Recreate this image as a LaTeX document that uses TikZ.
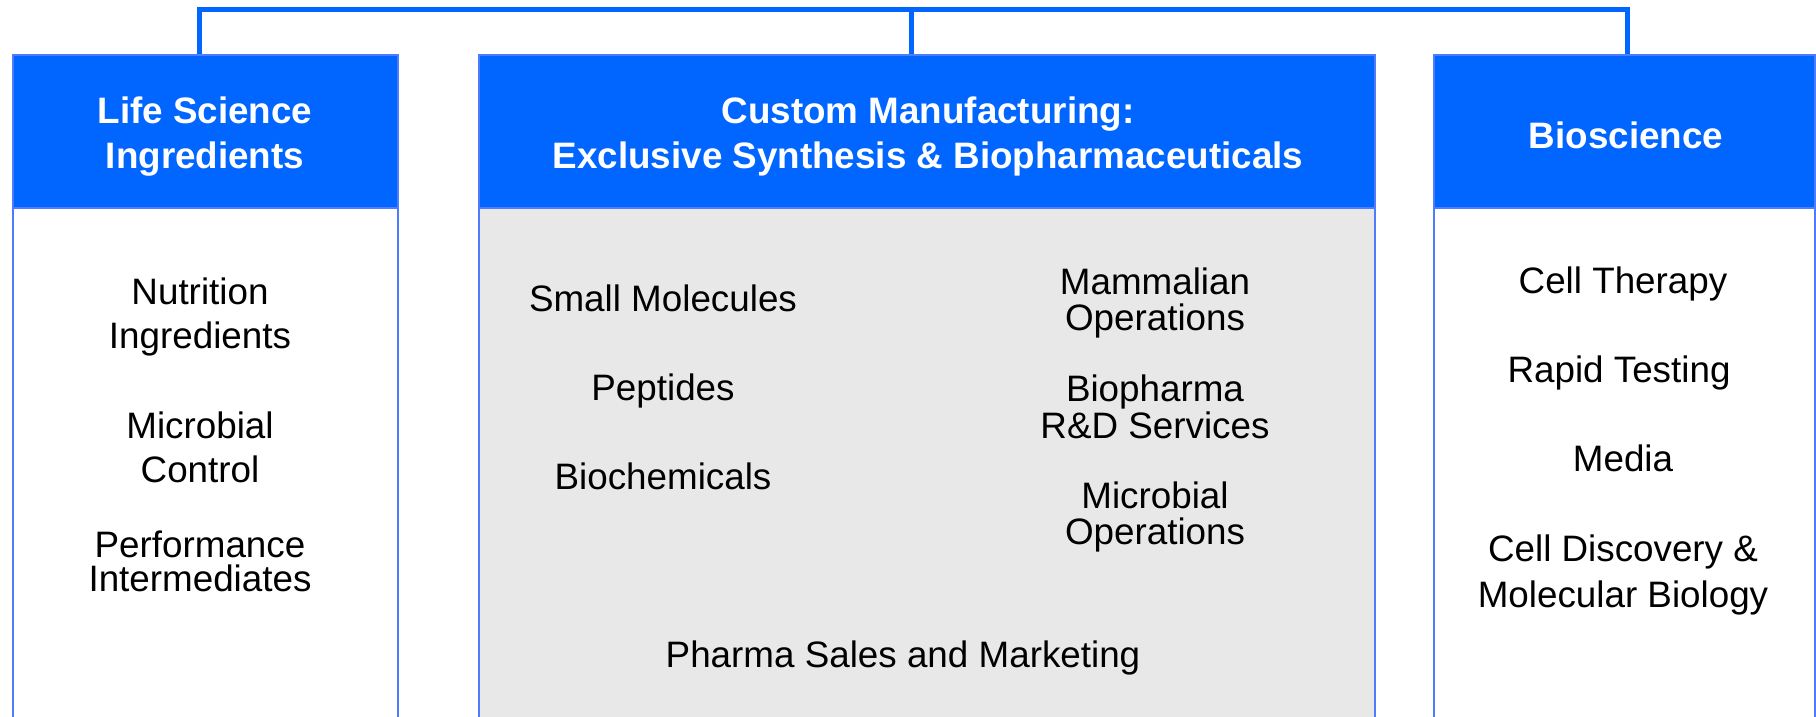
\documentclass[tikz,border=0pt]{standalone}
\usepackage{fontspec}
\setmainfont{Liberation Sans}
\definecolor{hdrblue}{HTML}{0066FF}
\definecolor{edgeblue}{HTML}{4D7CFF}
\definecolor{bodygray}{HTML}{E8E8E8}
\begin{document}
\begin{tikzpicture}[x=1pt,y=-1pt,
  hdr/.style={draw=edgeblue, line width=2pt, fill=hdrblue, inner sep=0pt},
  bodybox/.style={draw=edgeblue, line width=2pt, inner sep=0pt},
  htxt/.style={text=white, font=\fontsize{36.8}{44}\selectfont\bfseries, anchor=base, inner sep=0pt},
  itxt/.style={text=black, font=\fontsize{36.8}{44}\selectfont, anchor=base, inner sep=0pt},
  conn/.style={draw=hdrblue, line width=5pt, line join=miter}
]
\useasboundingbox (0,0) rectangle (1816,717);
\clip (0,0) rectangle (1816,717);

% bodies
\node[bodybox, fill=white, minimum width=384.5pt, minimum height=552pt] (lb) at (205.25,484) {};
\node[bodybox, fill=bodygray, minimum width=896pt, minimum height=552pt] (mb) at (927,484) {};
\node[bodybox, fill=white, minimum width=381pt, minimum height=552pt] (rb) at (1624.5,484) {};

% headers
\node[hdr, minimum width=384.5pt, minimum height=153pt] (lh) at (205.25,131.5) {};
\node[hdr, minimum width=896pt, minimum height=153pt] (mh) at (927,131.5) {};
\node[hdr, minimum width=381pt, minimum height=153pt] (rh) at (1624.5,131.5) {};

% connectors
\coordinate (c1) at (199,10);
\coordinate (c2) at (911,10);
\coordinate (c3) at (1627.5,10);
\draw[conn] (lh.north -| c1) -- (c1) -- (c3) -- (rh.north -| c3);
\draw[conn] (c2) -- (mh.north -| c2);

% header texts
\node[htxt] (lh1) at (205,123) {Life Science};
\node[htxt] (lh2) at (205,168) {Ingredients};
\node[htxt] (mh1) at (928,123) {Custom Manufacturing:};
\node[htxt] (mh2) at (928,168) {Exclusive Synthesis \& Biopharmaceuticals};
\node[htxt] (rh1) at (1626,148) {Bioscience};

% left items
\node[itxt] (l1a) at (200,304) {Nutrition};
\node[itxt] (l1b) at (200,348) {Ingredients};
\node[itxt] (l2a) at (200,438) {Microbial};
\node[itxt] (l2b) at (200,482) {Control};
\node[itxt] (l3a) at (200,557) {Performance};
\node[itxt] (l3b) at (200,591) {Intermediates};

% middle items, left column
\node[itxt] (m1) at (663,311) {Small Molecules};
\node[itxt] (m2) at (663,400) {Peptides};
\node[itxt] (m3) at (663,489) {Biochemicals};

% middle items, right column
\node[itxt] (m4a) at (1155,294) {Mammalian};
\node[itxt] (m4b) at (1155,330) {Operations};
\node[itxt] (m5a) at (1155,401) {Biopharma};
\node[itxt] (m5b) at (1155,438) {R\&D Services};
\node[itxt] (m6a) at (1155,508) {Microbial};
\node[itxt] (m6b) at (1155,544) {Operations};
\node[itxt] (m7) at (903,667) {Pharma Sales and Marketing};

% right items
\node[itxt] (r1) at (1623,293) {Cell Therapy};
\node[itxt] (r2) at (1619,382) {Rapid Testing};
\node[itxt] (r3) at (1623,471) {Media};
\node[itxt] (r4a) at (1623,561) {Cell Discovery \&};
\node[itxt] (r4b) at (1623,607) {Molecular Biology};
\end{tikzpicture}
\end{document}
